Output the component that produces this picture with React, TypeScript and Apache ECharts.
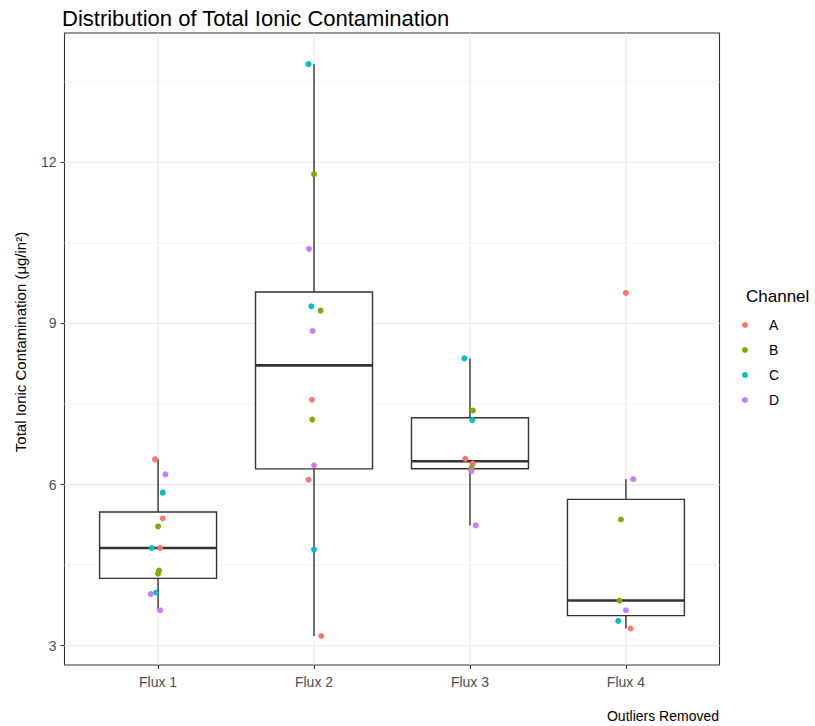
import React, { useEffect, useRef } from 'react';
import * as echarts from 'echarts';

const fluxLabels = ['Flux 1', 'Flux 2', 'Flux 3', 'Flux 4'];
const channelNames = ['A', 'B', 'C', 'D'];
const channelColors = ['#F8766D', '#7CAE00', '#00BFC4', '#C77CFF'];

// Measured values per flux (Flux 1..4) for each channel
const channelA = [[6.47, 5.37, 4.82], [7.58, 6.09, 3.18], [6.48, 6.39], [9.57, 3.32]];
const channelB = [[5.22, 4.40, 4.34], [11.78, 9.24, 7.21], [7.38, 6.31], [5.35, 3.84]];
const channelC = [[5.85, 4.82, 3.99], [13.83, 9.32, 4.79], [8.35, 7.20], [3.46]];
const channelD = [[6.19, 3.96, 3.66], [10.39, 8.86, 6.36], [6.25, 5.24], [6.10, 3.66]];

// Horizontal jitter (in category units)
const jitterA = [[-0.02, 0.03, 0.013], [-0.013, -0.035, 0.047], [-0.03, 0.017], [0.0, 0.03]];
const jitterB = [[0.0, 0.006, 0.0], [0.0, 0.042, -0.011], [0.019, 0.01], [-0.032, -0.041]];
const jitterC = [[0.03, -0.04, -0.013], [-0.035, -0.017, 0.0], [-0.036, 0.015], [-0.049]];
const jitterD = [[0.047, -0.047, 0.013], [-0.032, -0.009, 0.0], [0.009, 0.037], [0.047, 0.0]];

const yMajorTicks = [3, 6, 9, 12];
const yMinorTicks = [4.5, 7.5, 10.5, 13.5];
const xTicks = [1, 2, 3, 4];

const channelValues = [channelA, channelB, channelC, channelD];
const channelJitter = [jitterA, jitterB, jitterC, jitterD];

const FONT = 'Liberation Sans, Arial, Helvetica, sans-serif';

function quantile(sorted: number[], p: number) {
  const h = (sorted.length - 1) * p;
  const lo = Math.floor(h);
  const hi = Math.ceil(h);
  return sorted[lo] + (h - lo) * (sorted[hi] - sorted[lo]);
}

function boxStats(fluxIndex: number) {
  const vals: number[] = [];
  channelValues.forEach((ch) => ch[fluxIndex].forEach((v) => vals.push(v)));
  vals.sort((a, b) => a - b);
  const q1 = quantile(vals, 0.25);
  const med = quantile(vals, 0.5);
  const q3 = quantile(vals, 0.75);
  const iqr = q3 - q1;
  const lo = Math.min(...vals.filter((v) => v >= q1 - 1.5 * iqr));
  const hi = Math.max(...vals.filter((v) => v <= q3 + 1.5 * iqr));
  return [fluxIndex + 1, lo, q1, med, q3, hi];
}

const boxData = fluxLabels.map((_, i) => boxStats(i));

const gridData = [
  ...yMajorTicks.map((v) => [2.5, v, 0]),
  ...yMinorTicks.map((v) => [2.5, v, 1]),
  ...xTicks.map((v) => [v, 8, 2]),
];

function buildOption(): any {
  const scatterSeries = channelNames.map((name, c) => {
    const data: number[][] = [];
    channelValues[c].forEach((vals, f) => {
      vals.forEach((v, k) => data.push([f + 1 + channelJitter[c][f][k], v]));
    });
    return {
      name,
      type: 'scatter',
      data,
      symbol: 'circle',
      symbolSize: 6,
      itemStyle: { color: channelColors[c], opacity: 1 },
      z: 5,
      silent: true,
    };
  });

  return {
    animation: false,
    backgroundColor: '#ffffff',
    textStyle: { fontFamily: FONT },
    title: [
      {
        text: 'Distribution of Total Ionic Contamination',
        left: 62,
        top: 7,
        padding: 0,
        textStyle: { fontSize: 22, fontWeight: 'normal', color: '#000', fontFamily: FONT },
      },
      {
        text: 'Channel',
        left: 746,
        top: 288,
        padding: 0,
        textStyle: { fontSize: 17, fontWeight: 'normal', color: '#000', fontFamily: FONT },
      },
      {
        text: 'Outliers Removed',
        right: 96,
        top: 709,
        padding: 0,
        textStyle: { fontSize: 14, fontWeight: 'normal', color: '#000', fontFamily: FONT },
      },
    ],
    legend: {
      data: channelNames,
      orient: 'vertical',
      left: 742,
      top: 318,
      padding: 0,
      itemWidth: 38,
      itemHeight: 6,
      itemGap: 11,
      icon: 'circle',
      selectedMode: false,
      textStyle: { fontSize: 14, color: '#000', lineHeight: 14, fontFamily: FONT },
    },
    grid: {
      left: 64.5,
      right: 95.5,
      top: 33,
      bottom: 61,
      show: true,
      borderColor: '#333333',
      borderWidth: 1.1,
      backgroundColor: '#ffffff',
    },
    xAxis: {
      type: 'value',
      min: 0.4,
      max: 4.6,
      splitLine: { show: false },
      axisLine: { show: false },
      axisTick: {
        show: true,
        customValues: xTicks,
        length: 4,
        lineStyle: { color: '#333333', width: 1.1 },
      },
      axisLabel: {
        customValues: xTicks,
        formatter: (v: number) => fluxLabels[Math.round(v) - 1] ?? '',
        color: '#4D4D4D',
        fontSize: 14,
        margin: 10,
        fontFamily: FONT,
      },
    },
    yAxis: {
      type: 'value',
      min: 2.64,
      max: 14.41,
      name: 'Total Ionic Contamination (μg/in²)',
      nameLocation: 'middle',
      nameGap: 37,
      nameTextStyle: { fontSize: 15, color: '#000', fontFamily: FONT, padding: [0, 0, 0, 14] },
      splitLine: { show: false },
      axisLine: { show: false },
      axisTick: {
        show: true,
        customValues: yMajorTicks,
        length: 4,
        lineStyle: { color: '#333333', width: 1.1 },
      },
      axisLabel: {
        customValues: yMajorTicks,
        color: '#4D4D4D',
        fontSize: 14,
        margin: 8,
        fontFamily: FONT,
      },
    },
    series: [
      {
        type: 'custom',
        name: 'grid',
        silent: true,
        z: 1,
        data: gridData,
        encode: { x: 0, y: 1 },
        renderItem: (params: any, api: any) => {
          const cs = params.coordSys;
          const kind = api.value(2);
          const p = api.coord([api.value(0), api.value(1)]);
          if (kind === 2) {
            return {
              type: 'line',
              shape: { x1: p[0], y1: cs.y, x2: p[0], y2: cs.y + cs.height },
              style: { stroke: '#EBEBEB', lineWidth: 1.1 },
            };
          }
          return {
            type: 'line',
            shape: { x1: cs.x, y1: p[1], x2: cs.x + cs.width, y2: p[1] },
            style: { stroke: kind === 0 ? '#EBEBEB' : '#F2F2F2', lineWidth: kind === 0 ? 1.1 : 0.8 },
          };
        },
      },
      {
        type: 'custom',
        name: 'box',
        silent: true,
        z: 2,
        data: boxData,
        encode: { x: 0, y: [1, 2, 3, 4, 5] },
        renderItem: (params: any, api: any) => {
          const x = api.value(0);
          const half = api.size([0.375, 0])[0];
          const pLo = api.coord([x, api.value(1)]);
          const pQ1 = api.coord([x, api.value(2)]);
          const pMed = api.coord([x, api.value(3)]);
          const pQ3 = api.coord([x, api.value(4)]);
          const pHi = api.coord([x, api.value(5)]);
          const line = { stroke: '#333333', lineWidth: 1.4 };
          return {
            type: 'group',
            children: [
              { type: 'line', shape: { x1: pHi[0], y1: pHi[1], x2: pQ3[0], y2: pQ3[1] }, style: line },
              { type: 'line', shape: { x1: pQ1[0], y1: pQ1[1], x2: pLo[0], y2: pLo[1] }, style: line },
              {
                type: 'rect',
                shape: { x: pQ3[0] - half, y: pQ3[1], width: 2 * half, height: pQ1[1] - pQ3[1] },
                style: { fill: '#ffffff', stroke: '#333333', lineWidth: 1.4 },
              },
              {
                type: 'line',
                shape: { x1: pMed[0] - half, y1: pMed[1], x2: pMed[0] + half, y2: pMed[1] },
                style: { stroke: '#333333', lineWidth: 2.6 },
              },
            ],
          };
        },
      },
      ...scatterSeries,
    ],
  };
}

export default function App() {
  const ref = useRef<HTMLDivElement>(null);
  useEffect(() => {
    if (!ref.current) return;
    const chart = echarts.init(ref.current, null, { renderer: 'svg' });
    chart.setOption(buildOption());
    return () => chart.dispose();
  }, []);
  return (
    <div
      ref={ref}
      style={{ position: 'fixed', left: 0, top: 0, width: 815, height: 726, background: '#ffffff' }}
    />
  );
}
